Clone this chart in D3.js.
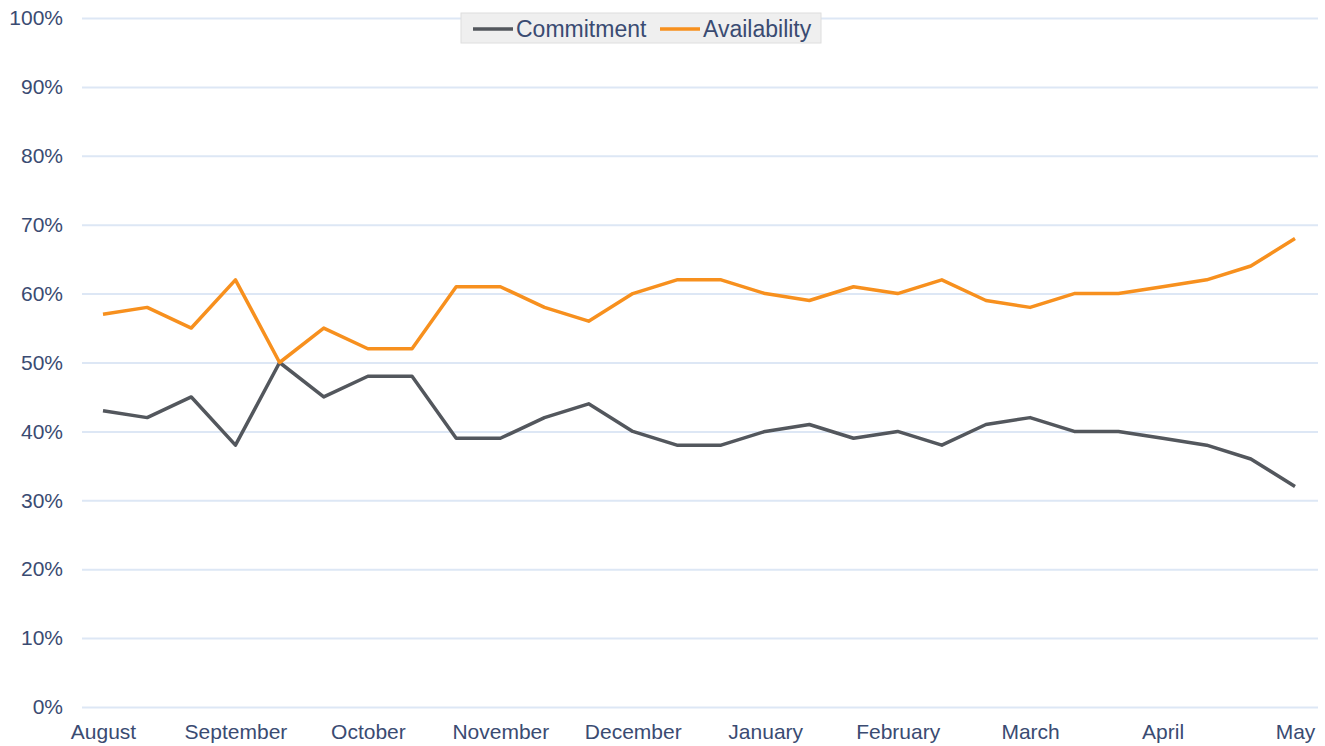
<!doctype html>
<html>
<head>
<meta charset="utf-8">
<script src="https://d3js.org/d3.v7.min.js"></script>
<style>
  body { margin: 0; background: #fff; }
  text { font-family: "Liberation Sans", Arial, sans-serif; fill: #3a4b72; }
</style>
</head>
<body>
<svg width="1325" height="746"></svg>
<script>
// three readings per month, Aug .. May
var periods = ["Aug-1","Aug-2","Aug-3","Sep-1","Sep-2","Sep-3","Oct-1","Oct-2","Oct-3",
               "Nov-1","Nov-2","Nov-3","Dec-1","Dec-2","Dec-3","Jan-1","Jan-2","Jan-3",
               "Feb-1","Feb-2","Feb-3","Mar-1","Mar-2","Mar-3","Apr-1","Apr-2","Apr-3","May-1"];
var monthTicks = ["Aug-1","Sep-1","Oct-1","Nov-1","Dec-1","Jan-1","Feb-1","Mar-1","Apr-1","May-1"];
var monthLabels = ["August","September","October","November","December","January","February","March","April","May"];

var commitment   = [43,42,45,38,50,45,48,48,39,39,42,44,40,38,38,40,41,39,40,38,41,42,40,40,39,38,36,32];
var availability = [57,58,55,62,50,55,52,52,61,61,58,56,60,62,62,60,59,61,60,62,59,58,60,60,61,62,64,68];

var yTicks = [0,10,20,30,40,50,60,70,80,90,100];

var svg = d3.select("svg");

var x = d3.scalePoint().domain(periods).range([103, 1295]);
var y = d3.scaleLinear().domain([0, 100]).range([707, 18]);

// grid
svg.append("g")
   .attr("transform", "translate(82,0)")
   .call(d3.axisLeft(y).tickValues(yTicks).tickSize(-1236).tickFormat(""))
   .call(function(g) {
       g.select(".domain").remove();
       g.selectAll("line").attr("stroke", "#dde7f5").attr("stroke-width", 2);
   });

// y labels
svg.append("g")
   .attr("transform", "translate(63,0)")
   .call(d3.axisLeft(y).tickValues(yTicks).tickSize(0).tickPadding(0).tickFormat(function(d) { return d + "%"; }))
   .call(function(g) {
       g.select(".domain").remove();
       g.selectAll("text").attr("font-size", 21).attr("fill", "#3a4b72").attr("font-family", null);
   });

// x labels
var xLab = {};
monthTicks.forEach(function(t, i) { xLab[t] = monthLabels[i]; });
svg.append("g")
   .attr("transform", "translate(0,718)")
   .call(d3.axisBottom(x).tickValues(monthTicks).tickSize(0).tickPadding(6).tickFormat(function(d) { return xLab[d]; }))
   .call(function(g) {
       g.select(".domain").remove();
       g.selectAll("text").attr("font-size", 21).attr("fill", "#3a4b72").attr("font-family", null);
   });

var line = d3.line()
    .x(function(d, i) { return x(periods[i]); })
    .y(function(d) { return y(d); });

svg.append("path").datum(commitment)
   .attr("fill", "none").attr("stroke", "#53575d").attr("stroke-width", 3.5)
   .attr("stroke-linejoin", "round").attr("d", line);

svg.append("path").datum(availability)
   .attr("fill", "none").attr("stroke", "#f7901e").attr("stroke-width", 3.5)
   .attr("stroke-linejoin", "round").attr("d", line);

// legend
var legend = svg.append("g");
legend.append("rect")
      .attr("x", 461).attr("y", 13).attr("width", 360).attr("height", 30)
      .attr("fill", "#efefef").attr("stroke", "#dedede");
var items = [["Commitment", "#53575d", 473], ["Availability", "#f7901e", 660]];
items.forEach(function(it) {
    legend.append("line")
          .attr("x1", it[2]).attr("x2", it[2] + 40).attr("y1", 29).attr("y2", 29)
          .attr("stroke", it[1]).attr("stroke-width", 3.5);
    legend.append("text")
          .attr("x", it[2] + 43).attr("y", 37).attr("font-size", 23)
          .text(it[0]);
});
</script>
</body>
</html>
